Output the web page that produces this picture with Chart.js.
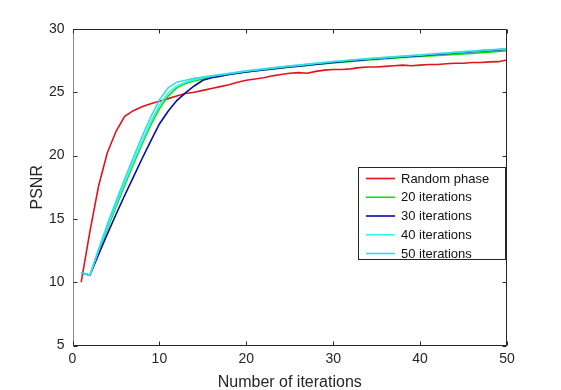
<!DOCTYPE html>
<html>
<head>
<meta charset="utf-8">
<script src="https://cdn.jsdelivr.net/npm/chart.js@4/dist/chart.umd.min.js"></script>
<style>
html,body{margin:0;padding:0;background:#fff;}
#wrap{width:561px;height:390px;position:relative;}
</style>
</head>
<body>
<div id="wrap"><canvas id="c" width="561" height="390"></canvas></div>
<script>
const iterations = [1,2,3,4,5,6,7,8,9,10,11,12,13,14,15,16,17,18,19,20,21,22,23,24,25,26,27,28,29,30,31,32,33,34,35,36,37,38,39,40,41,42,43,44,45,46,47,48,49,50];

const seriesNames = ['Random phase','20 iterations','30 iterations','40 iterations','50 iterations'];

const randomPhase = [10.0,14.0,17.6,20.2,21.9,23.1,23.55,23.85,24.1,24.3,24.5,24.7,24.9,25.0,25.15,25.3,25.45,25.6,25.8,25.95,26.05,26.15,26.3,26.4,26.5,26.55,26.5,26.65,26.75,26.8,26.8,26.85,26.95,27.0,27.0,27.05,27.1,27.15,27.1,27.15,27.2,27.2,27.25,27.3,27.3,27.35,27.35,27.4,27.42,27.55];

const iter20 = [10.75,10.55,12.4,14.2,15.95,17.65,19.3,20.9,22.4,23.7,24.7,25.35,25.7,25.9,26.05,26.2,26.3,26.4,26.5,26.6,26.7,26.78,26.85,26.93,27.0,27.07,27.13,27.2,27.26,27.32,27.38,27.44,27.5,27.55,27.6,27.65,27.7,27.75,27.79,27.83,27.87,27.91,27.95,27.99,28.03,28.07,28.12,28.17,28.22,28.28];

const iter30 = [10.75,10.55,12.2,13.8,15.35,16.85,18.3,19.75,21.15,22.5,23.5,24.35,24.95,25.5,25.95,26.15,26.28,26.4,26.5,26.6,26.68,26.76,26.84,26.92,27.0,27.07,27.14,27.21,27.28,27.35,27.42,27.48,27.54,27.6,27.65,27.7,27.75,27.8,27.85,27.9,27.95,28.0,28.05,28.1,28.15,28.2,28.25,28.3,28.35,28.4];

const iter40 = [10.75,10.55,12.5,14.35,16.15,17.85,19.5,21.1,22.65,24.0,24.95,25.5,25.8,26.0,26.15,26.27,26.37,26.47,26.57,26.67,26.75,26.83,26.91,26.99,27.06,27.13,27.2,27.27,27.34,27.41,27.47,27.53,27.59,27.64,27.69,27.74,27.79,27.84,27.89,27.94,27.99,28.04,28.09,28.14,28.19,28.24,28.29,28.34,28.38,28.42];

const iter50 = [10.75,10.55,12.6,14.55,16.4,18.15,19.85,21.5,23.05,24.4,25.35,25.8,25.95,26.1,26.2,26.3,26.4,26.5,26.6,26.7,26.78,26.86,26.94,27.02,27.09,27.16,27.23,27.3,27.37,27.43,27.49,27.55,27.61,27.66,27.71,27.76,27.81,27.86,27.91,27.96,28.01,28.06,28.11,28.16,28.21,28.26,28.31,28.36,28.4,28.45];

const xTicks = [0,10,20,30,40,50];
const yTicks = [5,10,15,20,25,30];

const colors = ['#E0141A','#12DD12','#0A0AA8','#30F4F4','#34DCE2'];
const FONT = "'Liberation Sans', Arial, Helvetica, sans-serif";
const AXIS = '#262626';

const allSeries = [randomPhase, iter20, iter30, iter40, iter50];
const datasets = allSeries.map((vals, i) => ({
  label: seriesNames[i],
  data: iterations.map((x, j) => ({x: x, y: vals[j]})),
  borderColor: colors[i],
  backgroundColor: colors[i],
  borderWidth: 1.6,
  pointRadius: 0,
  fill: false,
  tension: 0,
  order: 5 - i
}));

const framePlugin = {
  id: 'frame',
  afterDatasetsDraw(chart) {
    const {ctx, chartArea: a, scales: {x, y}} = chart;
    ctx.save();
    ctx.strokeStyle = AXIS;
    ctx.lineWidth = 1;
    const L = Math.round(a.left) + 0.5, R = Math.round(a.right) - 0.5;
    const T = Math.round(a.top) + 0.5, B = Math.round(a.bottom) - 0.5;
    ctx.beginPath();
    ctx.moveTo(L, T); ctx.lineTo(R, T); ctx.lineTo(R, B); ctx.lineTo(L, B);
    ctx.stroke();
    ctx.strokeStyle = '#8a8a8a';
    ctx.beginPath(); ctx.moveTo(L, T); ctx.lineTo(L, B); ctx.stroke();
    ctx.strokeStyle = AXIS;
    ctx.beginPath();
    x.ticks.forEach(t => {
      const px = Math.round(x.getPixelForValue(t.value)) + 0.5;
      ctx.moveTo(px, B); ctx.lineTo(px, B - 4);
      ctx.moveTo(px, T); ctx.lineTo(px, T + 4);
    });
    y.ticks.forEach(t => {
      const py = Math.round(y.getPixelForValue(t.value)) + 0.5;
      ctx.moveTo(L, py); ctx.lineTo(L + 4, py);
      ctx.moveTo(R, py); ctx.lineTo(R - 4, py);
    });
    ctx.stroke();
    ctx.restore();
  }
};

const legendPlugin = {
  id: 'boxLegend',
  afterDraw(chart) {
    const {ctx} = chart;
    const bx = 358.5, by = 167.5, bw = 147, bh = 92;
    ctx.save();
    ctx.fillStyle = '#ffffff';
    ctx.fillRect(bx, by, bw, bh);
    ctx.strokeStyle = AXIS;
    ctx.lineWidth = 1;
    ctx.strokeRect(bx, by, bw, bh);
    ctx.font = '13px ' + FONT;
    ctx.textBaseline = 'middle';
    ctx.textAlign = 'left';
    chart.data.datasets.forEach((ds, i) => {
      const ry = 178.5 + i * 18.75;
      ctx.strokeStyle = ds.borderColor;
      ctx.lineWidth = 1.6;
      ctx.beginPath();
      ctx.moveTo(366, ry); ctx.lineTo(395, ry);
      ctx.stroke();
      ctx.fillStyle = '#111';
      ctx.fillText(ds.label, 401, ry + 0.5);
    });
    ctx.restore();
  }
};

new Chart(document.getElementById('c'), {
  type: 'line',
  data: { datasets: datasets },
  plugins: [framePlugin, legendPlugin],
  options: {
    responsive: false,
    animation: false,
    devicePixelRatio: 1,
    layout: { padding: { left: 0, top: 29, right: 54, bottom: 0 } },
    plugins: { legend: { display: false }, tooltip: { enabled: false } },
    scales: {
      x: {
        type: 'linear', min: 0, max: 50,
        afterBuildTicks: s => { s.ticks = xTicks.map(v => ({value: v})); },
        ticks: { color: AXIS, font: { family: FONT, size: 14 }, padding: 5, maxRotation: 0 },
        grid: { display: false, drawTicks: false },
        border: { display: false },
        title: { display: true, text: 'Number of iterations', color: AXIS, font: { family: FONT, size: 16 }, padding: { top: 0, bottom: -2 } },
        afterFit: s => { s.height = 44.5; }
      },
      y: {
        type: 'linear', min: 5, max: 30,
        afterBuildTicks: s => { s.ticks = yTicks.map(v => ({value: v})); },
        ticks: { color: AXIS, font: { family: FONT, size: 14 }, padding: 8 },
        grid: { display: false, drawTicks: false },
        border: { display: false },
        title: { display: true, text: 'PSNR', color: AXIS, font: { family: FONT, size: 16 }, padding: { top: 28, bottom: 0 } },
        afterFit: s => { s.width = 72.5; }
      }
    }
  }
});
</script>
</body>
</html>
